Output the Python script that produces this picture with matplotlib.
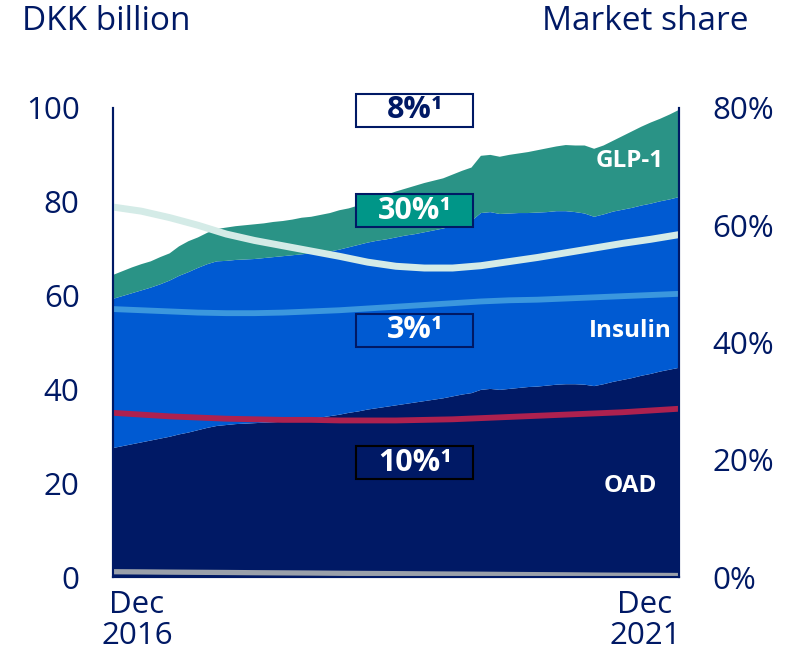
import matplotlib
matplotlib.use('Agg')
from matplotlib import pyplot as plt
from matplotlib.patches import Rectangle
import matplotlib.transforms as mtransforms
import numpy as np

plt.rcParams['font.family'] = ['Open Sans', 'Noto Sans', 'DejaVu Sans']

navy = '#001965'

# monthly, Dec 2016 .. Dec 2021 (DKK billion)
months = np.arange(61)
oad = [27.5, 27.9, 28.3, 28.7, 29.1, 29.5, 29.9, 30.4, 30.8, 31.3, 31.8, 32.2, 32.4,
       32.6, 32.7, 32.8, 32.9, 33.0, 33.1, 33.3, 33.5, 33.7, 34.0, 34.3, 34.6, 35.0,
       35.3, 35.7, 36.0, 36.3, 36.6, 36.9, 37.2, 37.5, 37.8, 38.1, 38.5, 38.9, 39.2,
       39.9, 40.1, 39.9, 40.1, 40.3, 40.5, 40.6, 40.8, 41.0, 41.1, 41.1, 41.0, 40.7,
       41.1, 41.6, 42.0, 42.4, 42.9, 43.3, 43.8, 44.2, 44.6]
insulin = [31.8, 32.0, 32.2, 32.4, 32.6, 32.9, 33.3, 33.8, 34.2, 34.6, 34.9, 35.1, 35.0,
           35.0, 35.0, 35.0, 35.1, 35.2, 35.3, 35.3, 35.3, 35.3, 35.2, 35.1, 35.2, 35.3,
           35.5, 35.6, 35.7, 35.7, 35.8, 35.9, 35.9, 36.0, 36.1, 36.2, 36.3, 36.4, 36.7,
           37.7, 37.7, 37.5, 37.4, 37.3, 37.1, 37.1, 37.0, 37.0, 36.9, 36.7, 36.5, 36.1,
           36.2, 36.3, 36.3, 36.3, 36.3, 36.3, 36.3, 36.3, 36.4]
glp1 = [5.1, 5.3, 5.5, 5.6, 5.6, 5.8, 5.8, 6.3, 6.6, 6.5, 6.7, 6.9, 7.1,
        7.2, 7.3, 7.4, 7.4, 7.5, 7.5, 7.6, 7.8, 7.8, 8.0, 8.2, 8.4, 8.3,
        8.4, 8.7, 9.1, 9.5, 9.8, 10.0, 10.3, 10.5, 10.6, 10.7, 11.0, 11.3, 11.4,
        12.2, 12.2, 12.2, 12.5, 12.7, 13.0, 13.3, 13.6, 13.8, 14.1, 14.2, 14.5, 14.5,
        14.7, 15.1, 15.7, 16.3, 16.8, 17.3, 17.6, 18.1, 18.6]

# quarterly market share (%)
q_months = np.arange(0, 61, 3)
share_total = [63.1, 62.4, 61.3, 60.0, 58.5, 57.4, 56.5, 55.6, 54.7, 53.7, 53.0,
               52.7, 52.7, 53.1, 53.8, 54.5, 55.3, 56.1, 56.9, 57.6, 58.4]
share_insulin = [45.7, 45.5, 45.3, 45.1, 45.0, 45.0, 45.1, 45.3, 45.5, 45.8, 46.1,
                 46.4, 46.7, 47.0, 47.2, 47.3, 47.5, 47.7, 47.9, 48.1, 48.3]
share_oad = [28.0, 27.7, 27.4, 27.2, 27.0, 26.9, 26.8, 26.8, 26.7, 26.7, 26.7,
             26.8, 26.9, 27.1, 27.3, 27.5, 27.7, 27.9, 28.1, 28.4, 28.7]
share_other = [0.9, 0.87, 0.83, 0.8, 0.77, 0.73, 0.7, 0.67, 0.63, 0.6, 0.57,
               0.53, 0.5, 0.47, 0.43, 0.4, 0.37, 0.33, 0.3, 0.28, 0.25]

area_labels = ['OAD', 'Insulin', 'GLP-1']
area_colors = [navy, '#005ad2', '#2a9386']
growth_labels = ['10%¹', '3%¹', '30%¹', '8%¹']
growth_y = [24.4, 52.6, 78.1, 99.5]
box_faces = [navy, '#005ad2', '#009688', 'white']
box_edges = ['black', navy, navy, navy]
text_colors = ['white', 'white', 'white', navy]

fig = plt.figure(figsize=(8.05, 6.58), dpi=100)
ax = fig.add_axes([0.1404, 0.1231, 0.7031, 0.7128])
ax.stackplot(months, oad, insulin, glp1, colors=area_colors, linewidth=0)
ax.set_xlim(0, 60)
ax.set_ylim(0, 100)

ax2 = ax.twinx()
ax2.set_ylim(0, 80)
ax2.plot(q_months, share_total, color='#d4ebe7', lw=5, solid_capstyle='butt')
ax2.plot(q_months, share_insulin, color='#3b97de', lw=4.2, solid_capstyle='butt')
ax2.plot(q_months, share_oad, color='#ad214f', lw=4.2, solid_capstyle='butt')
ax2.plot(q_months, share_other, color='#9aa0aa', lw=3.8, solid_capstyle='butt')

for a in (ax, ax2):
    a.spines['top'].set_visible(False)
    for s in ('left', 'right', 'bottom'):
        a.spines[s].set_color(navy)
        a.spines[s].set_linewidth(1.5)
    a.tick_params(length=0, labelsize=22.5, colors=navy)

ax.set_yticks([0, 20, 40, 60, 80, 100])
ax.tick_params(axis='y', pad=24)
ax2.set_yticks([0, 20, 40, 60, 80])
ax2.set_yticklabels(['0%', '20%', '40%', '60%', '80%'])
ax2.tick_params(axis='y', pad=24)

ax.set_xticks([0, 60])
ax.set_xticklabels(['Dec\n2016', 'Dec\n2021'], linespacing=1.05)
ax.tick_params(axis='x', pad=9)
offs = [24, -34]
for lab, dx in zip(ax.get_xticklabels(), offs):
    lab.set_transform(lab.get_transform() +
                      mtransforms.ScaledTranslation(dx / 100, 0, fig.dpi_scale_trans))

# segment names
name_y = [19.4, 52.4, 88.6]
for name, y in zip(area_labels, name_y):
    ax.text(54.8, y, name, color='white', fontsize=17.5, fontweight='bold',
            ha='center', va='center', zorder=5)

# growth boxes
for lab, y, fc, ec, tc in zip(growth_labels, growth_y, box_faces, box_edges, text_colors):
    r = Rectangle((25.8, y - 3.5), 12.4, 7.0, facecolor=fc, edgecolor=ec, lw=1.5,
                  transform=ax.transData, zorder=10, clip_on=False)
    ax2.add_patch(r)
    ax2.text(32.0, y * 0.8, lab, transform=ax2.transData, color=tc, fontsize=22,
             fontweight='bold', ha='center', va='center', zorder=11)

fig.text(0.027, 0.968, 'DKK billion', color=navy, fontsize=24, ha='left', va='center')
fig.text(0.93, 0.968, 'Market share', color=navy, fontsize=24, ha='right', va='center')

fig.savefig('out.png', dpi=100)
